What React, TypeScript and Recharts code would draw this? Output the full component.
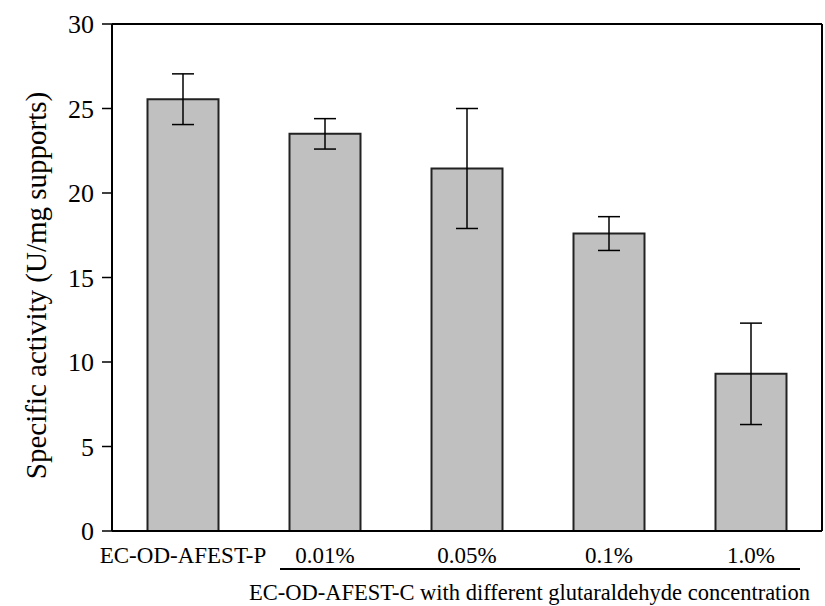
import {
  BarChart,
  Bar,
  XAxis,
  YAxis,
  ErrorBar,
} from "recharts";

const categories = ["EC-OD-AFEST-P", "0.01%", "0.05%", "0.1%", "1.0%"];
const activity = [25.55, 23.5, 21.45, 17.6, 9.3];
const activityErr = [1.5, 0.9, 3.55, 1.0, 3.0];
const majorTicks = [0, 5, 10, 15, 20, 25, 30];
const minorTicks = [2.5, 7.5, 12.5, 17.5, 22.5, 27.5];
const xMinorTicks = [0.5, 1, 1.5, 2, 2.5, 3, 3.5, 4, 4.5];
const rightTicks = [3, 6, 9, 12, 15, 18, 21, 24, 27, 30];

const data = categories.map((name, i) => ({
  name,
  value: activity[i],
  err: activityErr[i],
}));

const FONT = "'Liberation Serif', 'Times New Roman', serif";

// bracket + caption under the four crosslinked samples
function GroupLabel(props: any) {
  const vb = props.viewBox || {};
  const x = vb.x ?? 112;
  const y = vb.y ?? 530;
  return (
    <g>
      <line x1={x + 168} x2={x + 688} y1={y + 38} y2={y + 38} stroke="#000" strokeWidth={2} />
      <text x={x + 137} y={y + 69} fontFamily={FONT} fontSize={22.5} fill="#000">
        EC-OD-AFEST-C with different glutaraldehyde concentration
      </text>
    </g>
  );
}

function YLabel(props: any) {
  const vb = props.viewBox || {};
  const cy = (vb.y ?? 24) + (vb.height ?? 506) / 2 + 8;
  return (
    <text
      x={36}
      y={cy}
      transform={`rotate(-90, 36, ${cy})`}
      textAnchor="middle"
      dominantBaseline="central"
      fontFamily={FONT}
      fontSize={29}
      fill="#000"
    >
      Specific activity (U/mg supports)
    </text>
  );
}

export default function App() {
  return (
    <div style={{ position: "absolute", left: 0, top: 0, background: "#fff" }}>
      <BarChart
        width={825}
        height={606}
        data={data}
        margin={{ top: 23, right: 0, left: 0, bottom: 0 }}
        barCategoryGap="25%"
      >
        <XAxis
          xAxisId="minor"
          type="number"
          domain={[0, 5]}
          ticks={xMinorTicks}
          height={1}
          mirror
          tick={false}
          tickSize={5}
          axisLine={false}
          tickLine={{ stroke: "#000", strokeWidth: 1.5 }}
        />
        <XAxis
          xAxisId="cat"
          dataKey="name"
          height={75}
          tickLine={false}
          tickSize={0}
          tickMargin={16}
          axisLine={{ stroke: "#000", strokeWidth: 2 }}
          tick={{ fill: "#000", fontSize: 23, fontFamily: FONT }}
          interval={0}
          label={<GroupLabel />}
        />
        <XAxis
          xAxisId="top"
          orientation="top"
          type="number"
          domain={[0, 5]}
          ticks={[0, 5]}
          height={1}
          tick={false}
          tickLine={false}
          axisLine={{ stroke: "#000", strokeWidth: 2 }}
        />
        <YAxis
          yAxisId="left"
          domain={[0, 30]}
          ticks={majorTicks}
          width={111}
          tickSize={10}
          tickMargin={8}
          interval={0}
          axisLine={{ stroke: "#000", strokeWidth: 2 }}
          tickLine={{ stroke: "#000", strokeWidth: 1.5 }}
          tick={{ fill: "#000", fontSize: 26, fontFamily: FONT }}
          label={<YLabel />}
        />
        <YAxis
          yAxisId="minor"
          domain={[0, 30]}
          ticks={minorTicks}
          width={1}
          tickSize={5}
          tick={false}
          interval={0}
          axisLine={false}
          tickLine={{ stroke: "#000", strokeWidth: 1.5 }}
        />
        <YAxis
          yAxisId="right"
          orientation="right"
          domain={[0, 30.4]}
          ticks={rightTicks}
          width={3}
          tickSize={3}
          tick={false}
          interval={0}
          axisLine={{ stroke: "#000", strokeWidth: 2 }}
          tickLine={{ stroke: "#000", strokeWidth: 1.5 }}
        />
        <Bar
          xAxisId="cat"
          yAxisId="left"
          dataKey="value"
          fill="#c0c0c0"
          stroke="#222"
          strokeWidth={2}
          isAnimationActive={false}
        >
          <ErrorBar
            dataKey="err"
            width={11}
            stroke="#000"
            strokeWidth={1.5}
            isAnimationActive={false}
          />
        </Bar>
      </BarChart>
    </div>
  );
}
